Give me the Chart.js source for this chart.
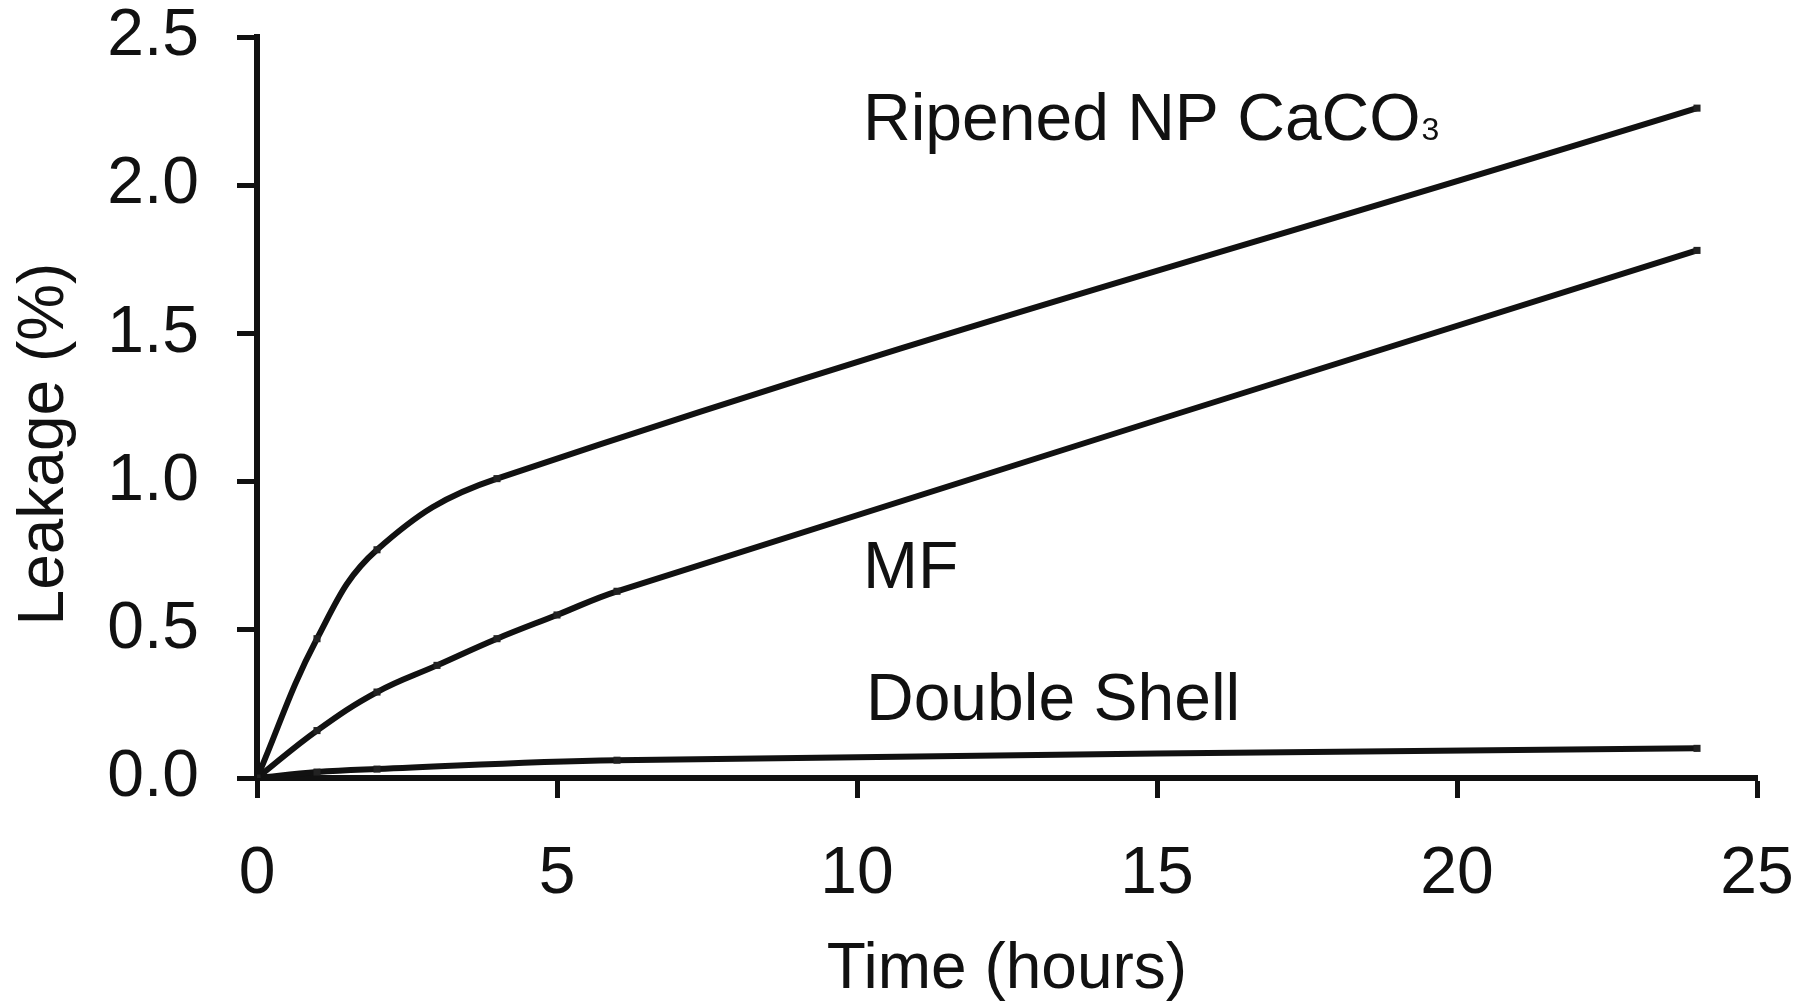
<!DOCTYPE html>
<html>
<head>
<meta charset="utf-8">
<title>Leakage vs Time</title>
<script src="https://cdn.jsdelivr.net/npm/chart.js@4.4.0/dist/chart.umd.min.js"></script>
<style>
    html, body { margin: 0; padding: 0; background: #fff; }
    #wrap { width: 1814px; height: 1006px; }
</style>
</head>
<body>
<div id="wrap"><canvas id="leakChart"></canvas></div>
<script>
// Leakage (%) against time (hours)
const ripenedHours = [0, 1, 2, 4, 24];
const ripenedLeak = [0, 0.47, 0.77, 1.01, 2.26];

const mfHours = [0, 1, 2, 3, 4, 5, 6, 24];
const mfLeak = [0, 0.16, 0.29, 0.38, 0.47, 0.55, 0.63, 1.78];

const shellHours = [0, 1, 2, 6, 24];
const shellLeak = [0, 0.02, 0.03, 0.06, 0.10];

const xTicks = [0, 5, 10, 15, 20, 25];
const yTicks = [0, 0.5, 1.0, 1.5, 2.0, 2.5];

// Curve names written inside the plot (position in hours / %)
const curveNames = ['Ripened NP CaCO', 'MF', 'Double Shell'];
const curveSubs = ['3', '', ''];
const nameX = [10.1, 10.1, 10.15];
const nameY = [2.153, 0.641, 0.196];

const FONT = '"Liberation Sans", Arial, Helvetica, sans-serif';
const INK = '#111';

function toPoints(hours, values) {
    return hours.map((h, i) => ({ x: h, y: values[i] }));
}

function lineSet(label, hours, values) {
    return {
        label: label,
        data: toPoints(hours, values),
        borderColor: INK,
        borderWidth: 6,
        tension: 0.4,
        pointStyle: 'rect',
        pointRadius: 5,
        pointBackgroundColor: '#222',
        pointBorderWidth: 0,
        fill: false
    };
}

// Draws the curve names and the rotated y title
const curveLabels = {
    id: 'curveLabels',
    afterDatasetsDraw(chart) {
        const { ctx, scales: { x, y } } = chart;
        ctx.save();
        ctx.fillStyle = INK;
        ctx.textAlign = 'left';
        ctx.textBaseline = 'alphabetic';
        curveNames.forEach((name, i) => {
            const px = x.getPixelForValue(nameX[i]);
            const py = y.getPixelForValue(nameY[i]);
            ctx.font = '66px ' + FONT;
            ctx.fillText(name, px, py);
            if (curveSubs[i]) {
                const w = ctx.measureText(name).width;
                ctx.font = '32px ' + FONT;
                ctx.fillText(curveSubs[i], px + w + 1, py);
            }
        });

        ctx.translate(63, 444);
        ctx.rotate(-Math.PI / 2);
        ctx.textAlign = 'center';
        ctx.font = '64px ' + FONT;
        ctx.fillText('Leakage (%)', 0, 0);
        ctx.restore();
    }
};

const ctx = document.getElementById('leakChart');
new Chart(ctx, {
    type: 'line',
    data: {
        datasets: [
            lineSet('Ripened NP CaCO3', ripenedHours, ripenedLeak),
            lineSet('MF', mfHours, mfLeak),
            lineSet('Double Shell', shellHours, shellLeak)
        ]
    },
    options: {
        responsive: true,
        maintainAspectRatio: false,
        animation: false,
        layout: {
            padding: { top: 37, right: 57, left: 0, bottom: 0 }
        },
        plugins: {
            legend: { display: false },
            tooltip: { enabled: false }
        },
        scales: {
            x: {
                type: 'linear',
                min: 0,
                max: 25,
                afterBuildTicks: s => { s.ticks = xTicks.map(v => ({ value: v })); },
                afterFit: s => { s.height = 228; s.paddingLeft = 0; s.paddingRight = 0; },
                grid: {
                    drawOnChartArea: false,
                    drawTicks: true,
                    tickLength: 20,
                    tickWidth: 5,
                    color: INK
                },
                border: { display: true, color: INK, width: 6 },
                ticks: {
                    color: INK,
                    padding: 37,
                    maxRotation: 0,
                    font: { family: FONT, size: 66 }
                },
                title: {
                    display: true,
                    text: 'Time (hours)',
                    color: INK,
                    padding: { top: 0, bottom: 0 },
                    font: { family: FONT, size: 64, lineHeight: 1.1 }
                }
            },
            y: {
                type: 'linear',
                min: 0,
                max: 2.5,
                afterBuildTicks: s => { s.ticks = yTicks.map(v => ({ value: v })); },
                afterFit: s => { s.width = 257; s.paddingTop = 0; s.paddingBottom = 0; },
                grid: {
                    drawOnChartArea: false,
                    drawTicks: true,
                    tickLength: 20,
                    tickWidth: 5,
                    color: INK
                },
                border: { display: true, color: INK, width: 6 },
                ticks: {
                    color: INK,
                    padding: 38,
                    font: { family: FONT, size: 66 },
                    callback: v => Number(v).toFixed(1)
                }
            }
        }
    },
    plugins: [curveLabels]
});
</script>
</body>
</html>
